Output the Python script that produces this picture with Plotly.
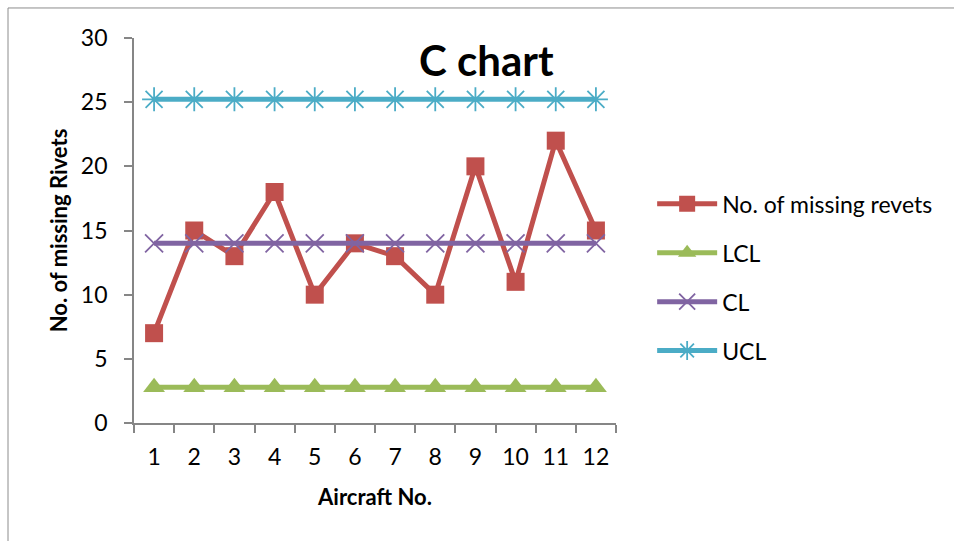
import plotly.graph_objects as go

aircraft = [str(i) for i in range(1, 13)]
missing = [7, 15, 13, 18, 10, 14, 13, 10, 20, 11, 22, 15]
lcl = [2.78] * 12
cl = [14] * 12
ucl = [25.22] * 12
y_ticks = [0, 5, 10, 15, 20, 25, 30]

FONT = "Lato"

fig = go.Figure()
fig.add_trace(go.Scatter(
    x=aircraft, y=missing, name="No. of missing revets", mode="lines+markers",
    line=dict(color="#C0504D", width=5),
    marker=dict(symbol="square", size=18, color="#C0504D"),
    legendgroup="a"))
fig.add_trace(go.Scatter(
    x=aircraft, y=lcl, name="LCL", mode="lines+markers",
    line=dict(color="#9BBB59", width=5),
    marker=dict(symbol="triangle-up", size=19, color="#9BBB59"),
    legendgroup="b"))
fig.add_trace(go.Scatter(
    x=aircraft, y=cl, name="CL", mode="lines+markers",
    line=dict(color="#8064A2", width=5),
    marker=dict(symbol="x-thin-open", size=18, line=dict(color="#8064A2", width=1.8)),
    legendgroup="c"))
fig.add_trace(go.Scatter(
    x=aircraft, y=ucl, name="UCL", mode="lines+markers",
    line=dict(color="#4BACC6", width=5),
    marker=dict(symbol="asterisk-open", size=20, line=dict(color="#4BACC6", width=1.8)),
    legendgroup="d"))

fig.update_layout(
    width=954, height=541,
    margin=dict(l=134, r=338, t=38, b=118, autoexpand=False),
    paper_bgcolor="white", plot_bgcolor="white",
    font=dict(family=FONT, size=23, color="black"),
    showlegend=True,
    legend=dict(x=1.075, y=0.625, xanchor="left", yanchor="top",
                font=dict(size=23), tracegroupgap=16, itemwidth=60,
                bgcolor="rgba(0,0,0,0)"),
    xaxis=dict(type="category", range=[-0.5, len(aircraft) - 0.5],
               tickson="boundaries", ticks="outside", ticklen=8,
               tickcolor="#868686", tickwidth=1.5, showline=True, linecolor="#868686",
               linewidth=1.8, showgrid=False, zeroline=False,
               tickfont=dict(size=23), ticklabelstandoff=12,
               title=dict(text="<b>Aircraft No.</b>", font=dict(size=22), standoff=21)),
    yaxis=dict(range=[0, 30], tickvals=y_ticks, ticks="outside", ticklen=8,
               tickcolor="#868686", tickwidth=1.5, showline=True, linecolor="#868686",
               linewidth=1.8, showgrid=False, zeroline=False,
               tickfont=dict(size=23), ticklabelstandoff=12,
               title=dict(text="<b>No. of missing Rivets</b>", font=dict(size=22), standoff=7)),
    annotations=[dict(text="<b>C chart</b>", xref="paper", yref="paper",
                      x=0.732, y=0.943, xanchor="center", yanchor="middle",
                      showarrow=False, font=dict(size=42, family=FONT))],
    shapes=[dict(type="rect", xref="paper", yref="paper",
                 x0=-0.2614, x1=2.0, y0=-1.0, y1=1.078,
                 line=dict(color="#8C8C8C", width=1), fillcolor="rgba(0,0,0,0)",
                 layer="below")],
)

fig.write_html("out.html")
